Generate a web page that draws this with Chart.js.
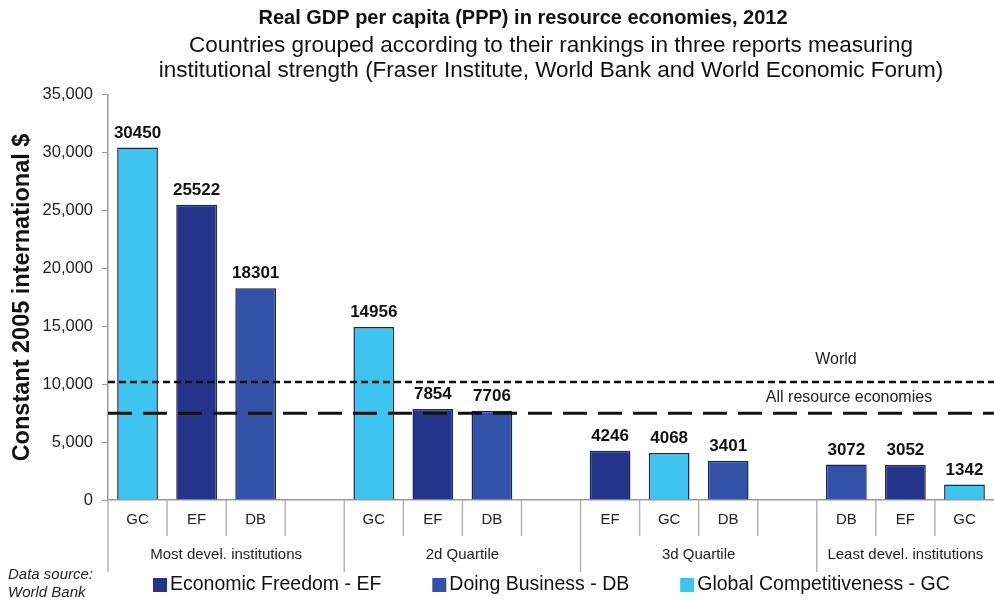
<!DOCTYPE html>
<html>
<head>
<meta charset="utf-8">
<script src="https://cdn.jsdelivr.net/npm/chart.js@4.4.1/dist/chart.umd.min.js"></script>
<style>
    html, body { margin: 0; padding: 0; background: #fff; }
    #wrap { width: 994px; height: 603px; position: relative; }
</style>
</head>
<body>
<div id="wrap"><canvas id="gdpChart"></canvas></div>
<script>
// Bar slots, left to right (empty string = spacer slot between groups)
const categories = ['GC', 'EF', 'DB', '', 'GC', 'EF', 'DB', '', 'EF', 'GC', 'DB', '', 'DB', 'EF', 'GC'];
const gdpValues = [30450, 25522, 18301, null, 14956, 7854, 7706, null, 4246, 4068, 3401, null, 3072, 3052, 1342];
const groupNames = ['Most devel. institutions', '2d Quartile', '3d Quartile', 'Least devel. institutions'];
const groupStarts = [0, 4, 8, 12];
const yTicks = [0, 5000, 10000, 15000, 20000, 25000, 30000, 35000];
const worldLevel = 10200;
const resourceLevel = 7500;

const seriesNames = {
    EF: 'Economic Freedom - EF',
    DB: 'Doing Business - DB',
    GC: 'Global Competitiveness - GC'
};
const seriesColors = {
    EF: '#26338b',
    DB: '#3451a8',
    GC: '#3ec4ee'
};
const legendOrder = ['EF', 'DB', 'GC'];

const FONT = 'Liberation Sans, Arial, sans-serif';

// Title, value labels, grouped x-axis labels, reference lines, legend, source note
const decorations = {
    id: 'decorations',
    afterDatasetsDraw(chart) {
        const ctx = chart.ctx;
        const x = chart.scales.x;
        const y = chart.scales.y;
        const area = chart.chartArea;
        const meta = chart.getDatasetMeta(0);

        ctx.save();
        // main title
        ctx.font = 'bold 20px ' + FONT;
        ctx.fillStyle = '#111';
        ctx.textAlign = 'center';
        ctx.textBaseline = 'middle';
        ctx.fillText('Real GDP per capita (PPP) in resource economies, 2012', 523, 18);

        // value labels
        ctx.font = 'bold 17px ' + FONT;
        ctx.textBaseline = 'bottom';
        meta.data.forEach((bar, i) => {
            if (gdpValues[i] === null) return;
            ctx.fillText(String(gdpValues[i]), bar.x, bar.y - 6);
        });

        // reference lines
        const drawRef = (value, dash, width, label, labelX, gap) => {
            const py = y.getPixelForValue(value);
            ctx.beginPath();
            ctx.setLineDash(dash);
            ctx.lineWidth = width;
            ctx.strokeStyle = '#111';
            ctx.moveTo(area.left, py);
            ctx.lineTo(area.right, py);
            ctx.stroke();
            ctx.setLineDash([]);
            ctx.font = '16px ' + FONT;
            ctx.fillStyle = '#222';
            ctx.textBaseline = 'middle';
            ctx.fillText(label, labelX, py - gap);
        };
        drawRef(worldLevel, [7, 4], 2.5, 'World', 836, 22);
        drawRef(resourceLevel, [24, 11], 3, 'All resource economies', 849, 16);

        // category separators
        const step = x.getPixelForValue(1) - x.getPixelForValue(0);
        ctx.strokeStyle = '#b4b4b4';
        ctx.lineWidth = 1.5;
        for (let i = 0; i < categories.length; i++) {
            const px = x.getPixelForValue(i) - step / 2;
            const isGroupEdge = groupStarts.includes(i);
            ctx.beginPath();
            ctx.moveTo(px, area.bottom);
            ctx.lineTo(px, area.bottom + (isGroupEdge ? 72 : 36));
            ctx.stroke();
        }

        // group names
        ctx.font = '15px ' + FONT;
        ctx.fillStyle = '#222';
        ctx.textBaseline = 'middle';
        groupNames.forEach((name, g) => {
            const first = groupStarts[g];
            const last = g + 1 < groupStarts.length ? groupStarts[g + 1] - 1 : categories.length - 1;
            const left = x.getPixelForValue(first) - step / 2;
            const right = Math.min(x.getPixelForValue(last) + step / 2, area.right);
            ctx.fillText(name, (left + right) / 2, area.bottom + 55);
        });

        // legend
        ctx.font = '19.5px ' + FONT;
        ctx.textAlign = 'left';
        let lx = 153;
        const ly = 585;
        legendOrder.forEach(k => {
            ctx.fillStyle = seriesColors[k];
            ctx.fillRect(lx, ly - 7, 14, 14);
            ctx.fillStyle = '#111';
            ctx.fillText(seriesNames[k], lx + 17, ly);
            lx += 17 + ctx.measureText(seriesNames[k]).width + 51;
        });

        // source note
        ctx.font = 'italic 15px ' + FONT;
        ctx.fillStyle = '#222';
        ctx.fillText('Data source:', 8, 575);
        ctx.fillText('World Bank', 8, 593);
        ctx.restore();
    }
};

const ctx = document.getElementById('gdpChart').getContext('2d');
new Chart(ctx, {
    type: 'bar',
    data: {
        labels: categories,
        datasets: [{
            label: 'GDP per capita',
            data: gdpValues,
            backgroundColor: categories.map(c => seriesColors[c] || 'transparent'),
            borderColor: '#1c2550',
            borderWidth: 1.5,
            borderSkipped: 'bottom',
            barPercentage: 0.69,
            categoryPercentage: 1.0
        }]
    },
    options: {
        responsive: true,
        maintainAspectRatio: false,
        animation: false,
        layout: { padding: 0 },
        scales: {
            x: {
                grid: { display: false },
                border: { display: true, color: '#999', width: 1.5 },
                ticks: {
                    font: { family: FONT, size: 15 },
                    color: '#222',
                    padding: 3,
                    autoSkip: false,
                    maxRotation: 0
                },
                afterFit(scale) {
                    scale.height = 103;
                }
            },
            y: {
                min: 0,
                max: 35000,
                afterBuildTicks(scale) {
                    scale.ticks = yTicks.map(v => ({ value: v }));
                },
                afterFit(scale) {
                    scale.width = 108;
                },
                grid: {
                    drawOnChartArea: false,
                    drawTicks: true,
                    tickLength: 6,
                    color: '#999'
                },
                border: { display: true, color: '#999', width: 1.5 },
                ticks: {
                    font: { family: FONT, size: 16.5 },
                    color: '#222',
                    padding: 9,
                    callback: v => v.toLocaleString('en-US')
                },
                title: {
                    display: true,
                    text: 'Constant 2005 international $',
                    font: { family: FONT, size: 23.5, weight: 'bold' },
                    color: '#111',
                    padding: { top: 8, bottom: 0 }
                }
            }
        },
        plugins: {
            title: { display: false },
            subtitle: {
                display: true,
                fullSize: false,
                text: [
                    'Countries grouped according to their rankings in three reports measuring',
                    'institutional strength (Fraser Institute, World Bank and World Economic Forum)'
                ],
                font: { family: FONT, size: 22.5, lineHeight: 1.11 },
                color: '#111',
                padding: { top: 33, bottom: 12 }
            },
            legend: { display: false },
            tooltip: { enabled: false }
        }
    },
    plugins: [decorations]
});
</script>
</body>
</html>
